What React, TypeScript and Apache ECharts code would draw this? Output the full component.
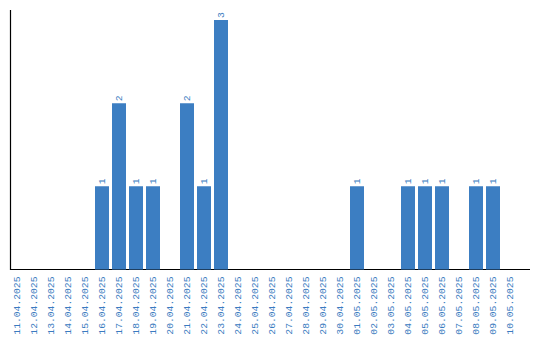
import React, { useEffect, useRef } from "react";
import * as echarts from "echarts";

const categories = [
  "11.04.2025", "12.04.2025", "13.04.2025", "14.04.2025", "15.04.2025",
  "16.04.2025", "17.04.2025", "18.04.2025", "19.04.2025", "20.04.2025",
  "21.04.2025", "22.04.2025", "23.04.2025", "24.04.2025", "25.04.2025",
  "26.04.2025", "27.04.2025", "28.04.2025", "29.04.2025", "30.04.2025",
  "01.05.2025", "02.05.2025", "03.05.2025", "04.05.2025", "05.05.2025",
  "06.05.2025", "07.05.2025", "08.05.2025", "09.05.2025", "10.05.2025",
];
const values = [
  0, 0, 0, 0, 0,
  1, 2, 1, 1, 0,
  2, 1, 3, 0, 0,
  0, 0, 0, 0, 0,
  1, 0, 0, 1, 1,
  1, 0, 1, 1, 0,
];

const BLUE = "#3c7ec2";
const TEXT_BLUE = "#3a7bc0";
const FONT = "'Liberation Mono', monospace";

export default function App() {
  const ref = useRef<HTMLDivElement>(null);
  useEffect(() => {
    if (!ref.current) return;
    const chart = echarts.init(ref.current, undefined, { renderer: "svg" });
    chart.setOption({
      animation: false,
      grid: { left: 8.5, right: 21.5, top: 20, bottom: 70.5, containLabel: false },
      xAxis: {
        type: "category",
        data: categories,
        axisLine: { show: false },
        axisTick: { show: false },
        axisLabel: {
          rotate: 90,
          interval: 0,
          color: TEXT_BLUE,
          fontFamily: FONT,
          fontSize: 9.7,
          margin: 7,
        },
      },
      yAxis: {
        type: "value",
        min: 0,
        max: 3,
        show: false,
        splitLine: { show: false },
      },
      graphic: [
        { type: "line", shape: { x1: 10.5, y1: 10, x2: 10.5, y2: 270 }, style: { stroke: "#000", lineWidth: 1.2 }, silent: true },
        { type: "line", shape: { x1: 10, y1: 269.5, x2: 530, y2: 269.5 }, style: { stroke: "#000", lineWidth: 1.2 }, silent: true },
      ],
      series: [
        {
          type: "bar",
          data: values.map((v) => (v === 0 ? null : v)),
          barWidth: 14,
          itemStyle: { color: BLUE },
          label: {
            show: true,
            position: "top",
            rotate: 90,
            align: "left",
            verticalAlign: "middle",
            distance: 2,
            color: TEXT_BLUE,
            fontFamily: FONT,
            fontSize: 9.7,
          },
        },
      ],
    });
    return () => chart.dispose();
  }, []);
  return <div ref={ref} style={{ width: 540, height: 340, position: "absolute", left: 0, top: 0 }} />;
}
